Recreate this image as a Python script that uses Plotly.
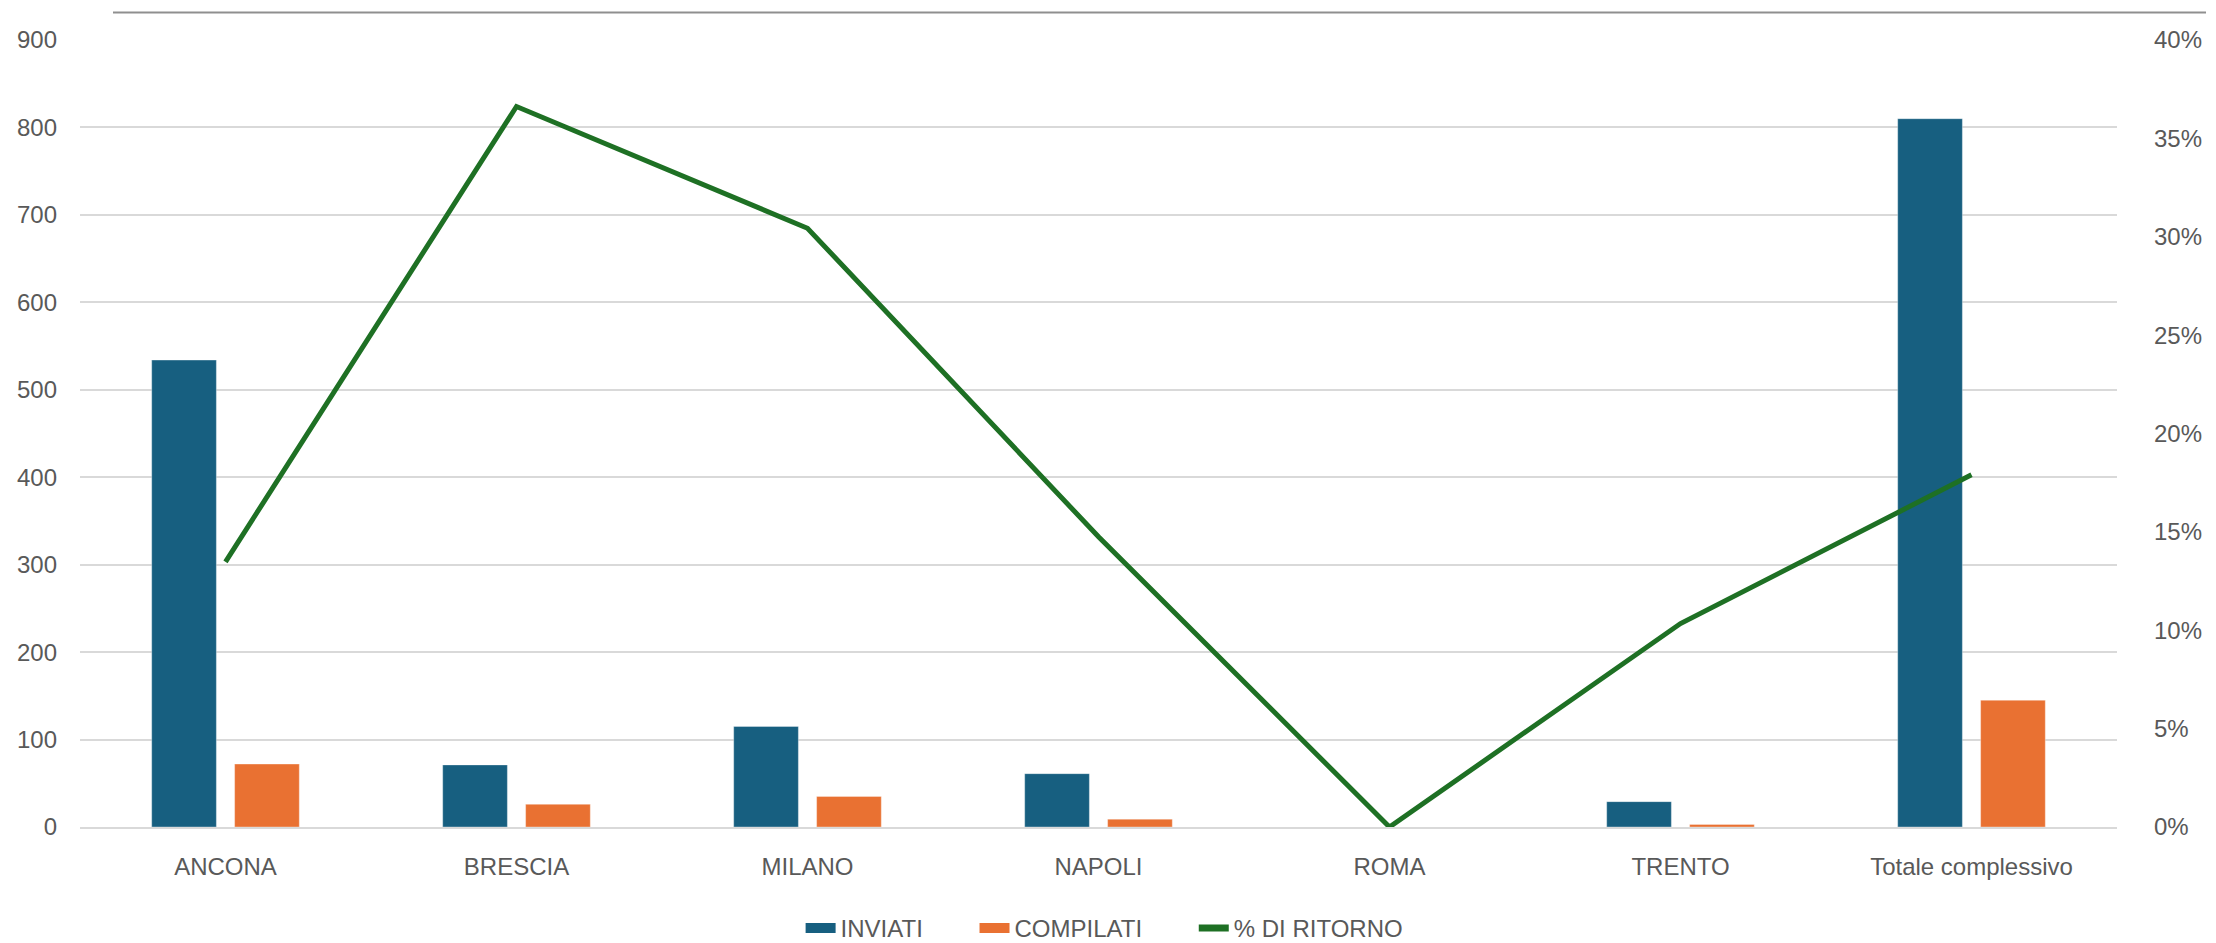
import plotly.graph_objects as go

# data
categories = ['ANCONA', 'BRESCIA', 'MILANO', 'NAPOLI', 'ROMA', 'TRENTO', 'Totale complessivo']
inviati = [534, 71, 115, 61, 0, 29, 810]
compilati = [72, 26, 35, 9, 0, 3, 145]
ritorno = [0.1348, 0.3662, 0.3043, 0.1475, 0.0, 0.1034, 0.179]

y_ticks = [0, 100, 200, 300, 400, 500, 600, 700, 800, 900]
y2_ticks = [0, 0.05, 0.10, 0.15, 0.20, 0.25, 0.30, 0.35, 0.40]

FONT = 'Liberation Sans, Arial, sans-serif'
GREY = '#595959'
BLUE = '#175f80'
ORANGE = '#e97132'
GREEN = '#1e7024'
PAD = '\u00a0' * 7  # extra space after legend labels

fig = go.Figure()

fig.add_trace(go.Bar(
    name='INVIATI', x=categories, y=inviati, showlegend=False,
    marker=dict(color=BLUE, line=dict(color='rgba(255,255,255,0.35)', width=1)),
))
fig.add_trace(go.Bar(
    name='COMPILATI', x=categories, y=compilati, showlegend=False,
    marker=dict(color=ORANGE, line=dict(color='rgba(255,255,255,0.35)', width=1)),
))
fig.add_trace(go.Scatter(
    name='% DI RITORNO', x=categories, y=ritorno, yaxis='y2', showlegend=False,
    mode='lines', line=dict(color=GREEN, width=5),
))

# legend entries (wider swatches than plotly's bar squares)
fig.add_trace(go.Scatter(name='INVIATI' + PAD, x=[None], y=[None], mode='lines',
                         line=dict(color=BLUE, width=18)))
fig.add_trace(go.Scatter(name='COMPILATI' + PAD, x=[None], y=[None], mode='lines',
                         line=dict(color=ORANGE, width=18)))
fig.add_trace(go.Scatter(name='% DI RITORNO', x=[None], y=[None], mode='lines',
                         line=dict(color=GREEN, width=7)))

fig.update_layout(
    width=2216, height=943,
    margin=dict(l=72, r=107, t=32, b=124, autoexpand=False),
    paper_bgcolor='white', plot_bgcolor='white',
    font=dict(family=FONT, size=24, color=GREY),
    barmode='group', bargap=0.43, bargroupgap=0.22,
    showlegend=True,
    legend=dict(
        orientation='h', x=0.503, xanchor='center',
        yref='container', y=0.024, yanchor='middle',
        font=dict(size=24, color=GREY), traceorder='normal',
    ),
    xaxis=dict(
        showgrid=False, showline=True, linecolor='#d9d9d9', linewidth=2,
        ticks='', ticklabelstandoff=17, tickfont=dict(size=24, color=GREY),
    ),
    yaxis=dict(
        range=[0, 900], tickvals=y_ticks, showgrid=True, gridcolor='#d9d9d9',
        gridwidth=2, zeroline=False, showline=False, ticks='',
        ticklabelstandoff=22, tickfont=dict(size=24, color=GREY),
    ),
    yaxis2=dict(
        range=[0, 0.4], tickvals=y2_ticks, tickformat='.0%', overlaying='y',
        side='right', showgrid=False, zeroline=False, showline=False, ticks='',
        ticklabelstandoff=36, tickfont=dict(size=24, color=GREY),
    ),
    shapes=[dict(
        type='line', xref='paper', yref='paper',
        x0=0.0162, x1=1.0437, y0=1.035, y1=1.035,
        line=dict(color='#8f8f8f', width=2),
    )],
)

fig.write_html('out.html')
